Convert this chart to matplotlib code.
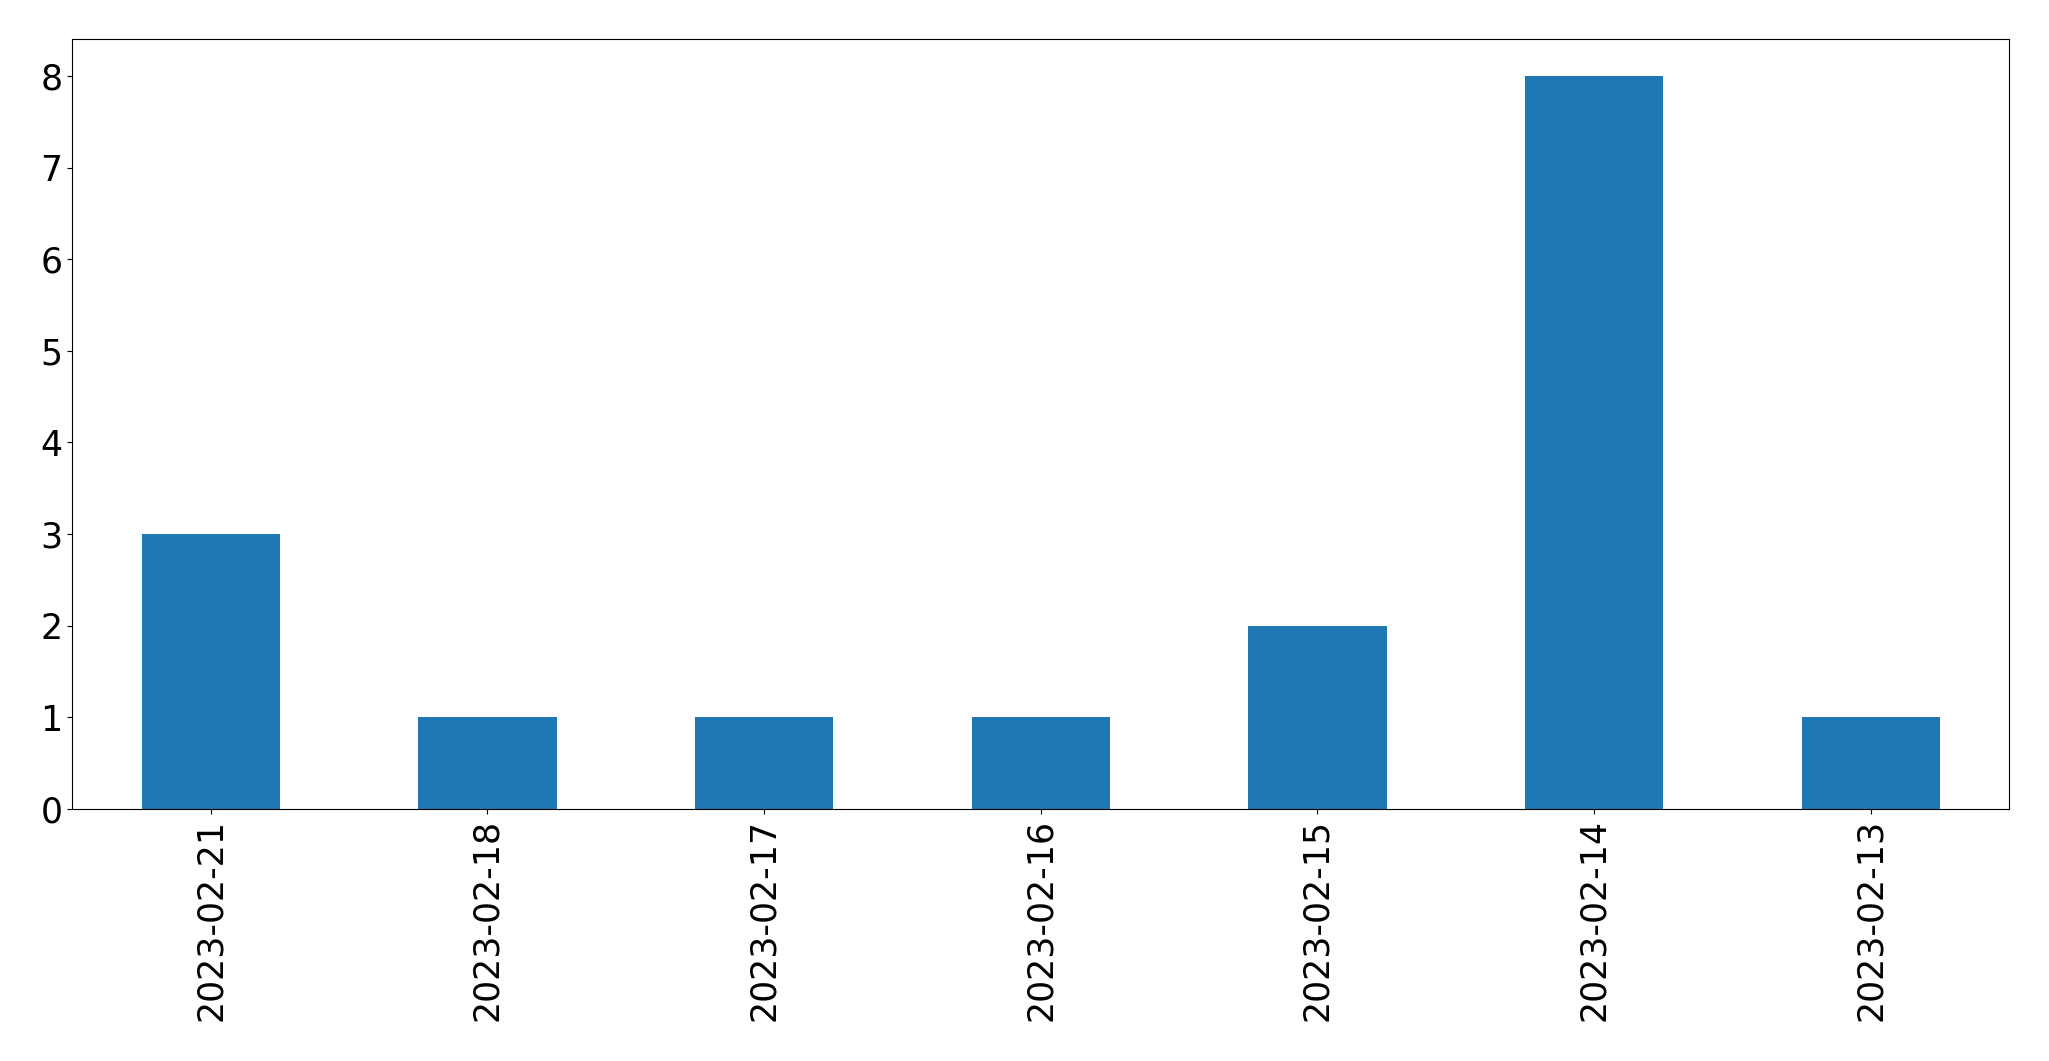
import matplotlib
matplotlib.use("Agg")
import matplotlib.pyplot as plt
import pandas as pd

dates = ["2023-02-21", "2023-02-18", "2023-02-17", "2023-02-16",
         "2023-02-15", "2023-02-14", "2023-02-13"]
counts = [3, 1, 1, 1, 2, 8, 1]

s = pd.Series(counts, index=dates)

fig, ax = plt.subplots(figsize=(20.49, 10.61), dpi=100)
s.plot(kind="bar", ax=ax, color="#1f77b4", fontsize=25)
ax.tick_params(axis="both", labelsize=25)

plt.subplots_adjust(left=0.0353, right=0.9806, top=0.963, bottom=0.2375)
plt.savefig("out.png", dpi=100)
